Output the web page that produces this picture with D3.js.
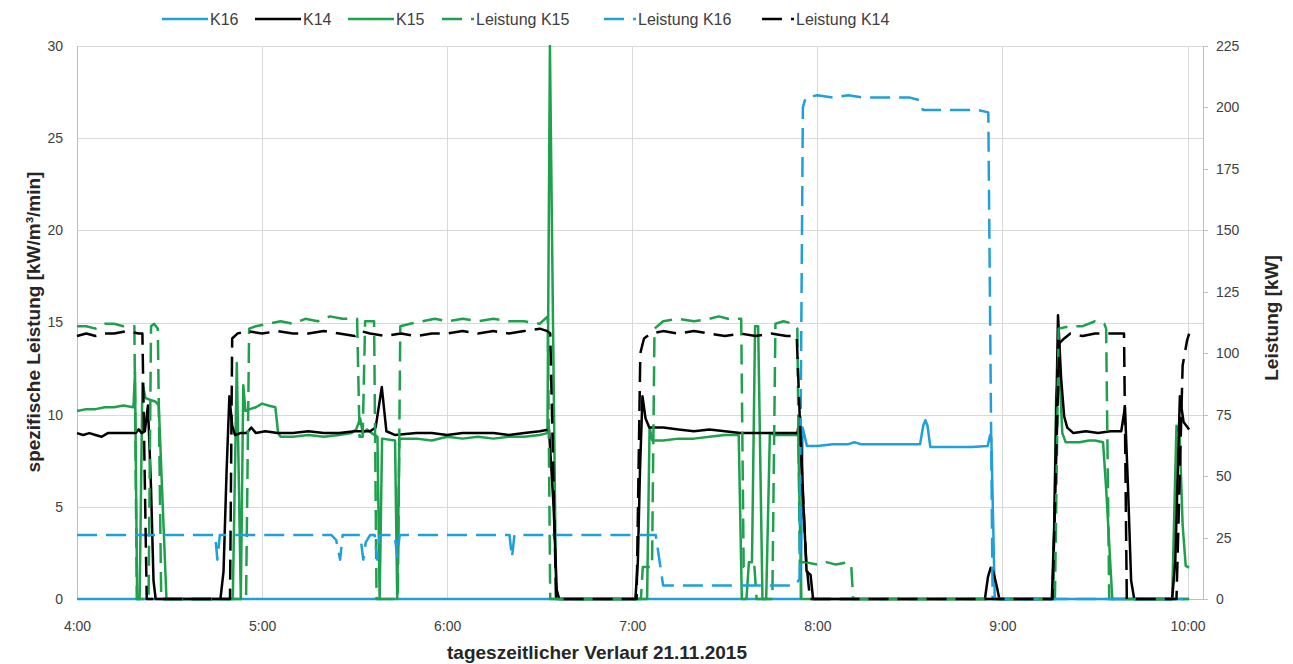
<html lang="de">
<head>
<meta charset="utf-8">
<title>Leistung K14 K15 K16</title>
<style>
  body { margin: 0; background: white; font-family: "Liberation Sans", Arial, sans-serif; }
  svg { background: white; display: block; }
  .grid line { stroke: #d9d9d9; stroke-width: 1; shape-rendering: crispEdges; }
  .axis text { font-size: 14px; fill: #404040; }
  .axis path, .axis line { stroke: #bfbfbf; shape-rendering: crispEdges; }
  .series { fill: none; stroke-linejoin: round; stroke-linecap: butt; }
  .legend text { font-size: 16px; fill: #404040; }
  .title { font-size: 19px; font-weight: bold; fill: #262626; }
</style>
</head>
<body>
<script src="https://cdnjs.cloudflare.com/ajax/libs/d3/7.8.5/d3.min.js"></script>
<script>
// time = minutes after 4:00, left axis kW/m³/min, right axis kW
var xTicks = [0, 60, 120, 180, 240, 300, 360];
var xTickLabels = ["4:00", "5:00", "6:00", "7:00", "8:00", "9:00", "10:00"];
var yLeftTicks = [0, 5, 10, 15, 20, 25, 30];
var yRightTicks = [0, 25, 50, 75, 100, 125, 150, 175, 200, 225];

var k16 = [[0,0],[234.6,0],[235.2,9.3],[235.8,8.9],[236.6,8.3],[240,8.3],[245,8.4],[250,8.4],[252,8.5],[254,8.4],[260,8.4],[265,8.4],[273.3,8.4],[274.3,9.4],[275,9.7],[275.7,9.4],[276.6,8.25],[280,8.25],[285,8.25],[290,8.25],[295.2,8.3],[296,8.9],[296.4,8.7],[297.5,0],[360.5,0]];

var k14 = [[0,9.0],[2,8.9],[4,9.0],[6,8.9],[8,8.8],[10,9.0],[13,9.0],[16,9.0],[19,9.0],[20,9.2],[21,9.0],[22,9.1],[23,10.5],[24,6],[24.8,1],[25.5,0],
  [46.5,0],[47.5,1.5],[48.5,7],[49.4,11.0],[50.3,9.4],[51.2,8.9],[53,9.0],[55,9.0],[56.5,9.3],[58,9.0],[61,9.1],[65,9.0],[70,9.0],[75,9.1],[80,9.0],[85,9.0],[90,9.1],[95,9.1],[96.8,9.3],[98.8,11.5],[100.3,9.1],[103,8.9],[110,9.0],[115,9.0],[120,8.9],[125,9.0],[130,9.0],[135,9.0],[140,8.9],[145,9.0],[150,9.1],[153,9.2],[154.5,5],[155.5,0.5],[156.3,0],
  [181,0],[181.8,2],[182.5,7],[183.3,11.0],[184.3,9.8],[185.5,9.3],[190,9.3],[195,9.2],[200,9.1],[205,9.2],[210,9.1],[215,9.0],[220,9.0],[225,9.0],[230,9.0],[233.5,9.0],[234.4,9.9],[235.5,5],[236.5,1.5],[237.8,1.3],[238.6,0],
  [294.3,0],[295.3,1.2],[296.2,1.7],[297,1.5],[298,0.8],[299,0],
  [316,0],[316.8,4],[318,15.4],[319,12],[320,9.9],[321,9.3],[323,9.0],[327,9.1],[331,9.0],[335,9.1],[338.5,9.1],[339.7,10.4],[340.7,6],[341.7,1],[342.7,0],
  [355,0],[356,2],[357.5,11.0],[358.7,9.6],[360.5,9.2]];

var k15 = [[0,10.2],[3,10.3],[6,10.3],[9,10.4],[12,10.4],[15,10.5],[18.3,10.4],[18.8,12.3],[19.5,0],[20.3,0],[21.2,11.7],[22.2,10.9],[25.5,10.7],[26.5,10.5],[29,0],
  [50.5,0],[51.8,12.8],[52.6,5],[53.1,0],[53.9,11.6],[54.6,10.2],[56,10.3],[58,10.4],[60,10.6],[62,10.5],[64.3,10.4],[65.2,9],[66,8.8],[70,8.8],[75,8.9],[80,8.8],[85,8.9],[89,9.0],[90.5,9.2],[91.8,9.8],[92.6,9.0],[94,9.2],[95.5,9.0],[97.4,8.8],[98.1,0],[98.9,8.7],[103.1,8.6],[103.8,0],[104.5,8.7],[110,8.7],[115,8.6],[120,8.8],[125,8.7],[130,8.8],[135,8.7],[140,8.8],[145,8.8],[150,8.9],[152.5,9.0],[153.3,30],[155.3,0],
  [184.8,0],[185.6,9.3],[186.5,8.6],[190,8.6],[195,8.7],[200,8.7],[205,8.8],[210,8.9],[214.5,8.9],[215.5,0],[217,0],[217.8,2],[218.8,2],[219.8,14.8],[220.8,14.8],[222.2,0],[223.4,0],[224.6,9],[226,8.9],[230,8.9],[233.8,8.9],[234.8,0],
  [316.4,0],[317.4,11],[318.4,12.5],[319.4,9],[320.5,8.5],[325,8.5],[328,8.6],[330,8.6],[332.6,8.5],[333.6,6],[335.6,0],
  [355,0],[356.4,9.4],[357.4,9],[358.4,4],[359.4,1.8],[360.5,1.7]];

var leistungK15 = [[0,111],[3,111],[6,110],[9,112],[12,112],[15,111],[18.6,111],[19.4,0],[23.2,0],[24,111],[25,112],[26.2,110],[27.3,0],
  [54.8,0],[55.8,110],[58,111],[62,112],[66,113],[70,112],[74,114],[78,113],[82,115],[86,114],[90.8,114],[91.6,66],[92.6,66],[93.4,113],[96.3,113],[97.1,0],[104,0],[104.8,111],[108,112],[112,113],[116,114],[120,113],[125,114],[130,113],[135,114],[140,113],[145,113],[150,112],[152.6,115],[153.4,0],
  [182.8,0],[183.4,13],[186.4,13],[187.2,110],[190,113],[195,114],[200,113],[205,114],[208,115],[211,114],[215.3,114],[216.1,13],[219.6,13],[220.3,0],[225.4,0],[226.4,112],[229,113],[232,112],[233.5,110],[234.3,15],[236,15],[240,14],[243,15],[246,14],[250,15],[251,13],[251.6,0],
  [317,0],[318.2,110],[322,111],[326,111],[330,113],[333,112],[333.6,110],[334.6,0],[360.5,0]];

var leistungK16 = [[0,26],[20,26],[44.8,26],[45.5,16],[46.3,26],[60,26],[70,26],[82.5,26],[84,24],[85.3,16],[86.1,26],[91.8,26],[92.8,16],[93.6,23],[95,26],[96.5,26],[97.3,16],[98.1,26],[103,26],[103.8,17],[104.6,26],[120,26],[140.2,26],[141,17],[141.8,26],[160,26],[175,26],[187.6,26],[190,5.5],[200,5.5],[210,5.5],[220,5.5],[232.6,5.5],[234.2,8],[235.3,200],[236.2,204],[240,205],[245,204],[250,205],[255,204],[260,204],[265,204],[270,204],[273,203],[274.2,199],[278,199],[285,199],[292,199],[295.4,198],[296.8,0],[360.5,0]];

var leistungK14 = [[0,107],[3,108],[6,107],[9,108],[12,108],[16,109],[20,108],[21.2,108],[22.6,0],
  [49.6,0],[50.3,106],[52,108],[55,109],[60,108],[65,109],[70,108],[75,108],[80,109],[85,108],[90,107],[92,109],[95,108],[100,107],[105,108],[110,107],[115,108],[120,108],[125,109],[130,108],[135,109],[140,108],[145,109],[150,110],[152.5,109],[153.4,108],[155.3,0],
  [181.4,0],[182.6,100],[183.8,106],[186,108],[190,109],[195,108],[200,109],[205,108],[210,107],[215,108],[220,107],[225,108],[230,107],[233.3,107],[235,50],[236.4,15],[237.6,0],
  [316.2,0],[318.4,104],[320,106],[322,108],[326,107],[330,108],[336,108],[339.4,108],[340.3,0],
  [356.4,0],[358.4,95],[359.8,105],[360.5,108]];

var blue = "#1f9fdc", green = "#1ea04c", black = "#000000";
var dash = "20,9";

var W = 1293, H = 664;
// plot box in pixels (not "top": that name is taken by window.top)
var plotLeft = 77, plotRight = 1203, plotTop = 46, plotBottom = 599;

var svg = d3.select("body").append("svg").attr("width", W).attr("height", H);

var x = d3.scaleLinear().domain([0, 365]).range([plotLeft, plotRight]);
var yL = d3.scaleLinear().domain([0, 30]).range([plotBottom, plotTop]);
var yR = d3.scaleLinear().domain([0, 225]).range([plotBottom, plotTop]);

// gridlines
svg.append("g").attr("class", "grid")
  .selectAll("line").data(yLeftTicks.slice(1)).enter().append("line")
  .attr("x1", plotLeft).attr("x2", plotRight)
  .attr("y1", function(d) { return Math.round(yL(d)) + 0.5; })
  .attr("y2", function(d) { return Math.round(yL(d)) + 0.5; });
svg.append("g").attr("class", "grid")
  .selectAll("line").data(xTicks.slice(1)).enter().append("line")
  .attr("y1", plotTop).attr("y2", plotBottom)
  .attr("x1", function(d) { return Math.round(x(d)) + 0.5; })
  .attr("x2", function(d) { return Math.round(x(d)) + 0.5; });

// axes
var xAxis = d3.axisBottom(x).tickValues(xTicks)
  .tickFormat(function(d, i) { return xTickLabels[i]; })
  .tickSize(0).tickPadding(22);
svg.append("g").attr("class", "axis x")
  .attr("transform", "translate(0," + plotBottom + ")")
  .call(xAxis);

var yAxisL = d3.axisLeft(yL).tickValues(yLeftTicks).tickSize(0).tickPadding(14);
svg.append("g").attr("class", "axis yl")
  .attr("transform", "translate(" + plotLeft + ",0)")
  .call(yAxisL);

var yAxisR = d3.axisRight(yR).tickValues(yRightTicks).tickSize(5).tickSizeOuter(0).tickPadding(8);
svg.append("g").attr("class", "axis yr")
  .attr("transform", "translate(" + plotRight + ",0)")
  .call(yAxisR);

svg.selectAll(".axis.x .domain, .axis.yl .domain").remove();
svg.append("line").attr("x1", plotLeft + 0.5).attr("x2", plotLeft + 0.5)
  .attr("y1", plotTop).attr("y2", plotBottom).attr("stroke", "#bfbfbf");
svg.append("line").attr("x1", plotLeft).attr("x2", plotRight)
  .attr("y1", plotBottom + 0.5).attr("y2", plotBottom + 0.5).attr("stroke", "#bfbfbf");

// series
var lineL = d3.line().x(function(d) { return x(d[0]); }).y(function(d) { return yL(d[1]); });
var lineR = d3.line().x(function(d) { return x(d[0]); }).y(function(d) { return yR(d[1]); });

var solids = [
  { data: k16, color: blue },
  { data: k15, color: green },
  { data: k14, color: black }
];
var dashed = [
  { data: leistungK15, color: green },
  { data: leistungK16, color: blue },
  { data: leistungK14, color: black }
];

solids.forEach(function(s) {
  svg.append("path").attr("class", "series")
    .attr("d", lineL(s.data))
    .attr("stroke", s.color).attr("stroke-width", 2.5);
});
dashed.forEach(function(s) {
  svg.append("path").attr("class", "series")
    .attr("d", lineR(s.data))
    .attr("stroke", s.color).attr("stroke-width", 2.5)
    .attr("stroke-dasharray", dash);
});

// legend
var legendItems = [
  { name: "K16", color: blue, dashed: false, x: 162 },
  { name: "K14", color: black, dashed: false, x: 255 },
  { name: "K15", color: green, dashed: false, x: 348 },
  { name: "Leistung K15", color: green, dashed: true, x: 442 },
  { name: "Leistung K16", color: blue, dashed: true, x: 604 },
  { name: "Leistung K14", color: black, dashed: true, x: 762 }
];
var legend = svg.append("g").attr("class", "legend");
legendItems.forEach(function(it) {
  var len = it.dashed ? 32 : 46;
  legend.append("line")
    .attr("x1", it.x).attr("x2", it.x + len).attr("y1", 19).attr("y2", 19)
    .attr("stroke", it.color).attr("stroke-width", 2.5)
    .attr("stroke-dasharray", it.dashed ? dash : null);
  legend.append("text")
    .attr("x", it.x + len + 2).attr("y", 25)
    .text(it.name);
});

// titles
svg.append("text").attr("class", "title")
  .attr("x", 597).attr("y", 659).attr("text-anchor", "middle")
  .text("tageszeitlicher Verlauf 21.11.2015");
svg.append("text").attr("class", "title")
  .attr("transform", "translate(40,322) rotate(-90)")
  .attr("text-anchor", "middle")
  .text("spezifische Leistung [kW/m³/min]");
svg.append("text").attr("class", "title")
  .attr("transform", "translate(1278,318) rotate(-90)")
  .attr("text-anchor", "middle")
  .text("Leistung [kW]");
</script>
</body>
</html>
